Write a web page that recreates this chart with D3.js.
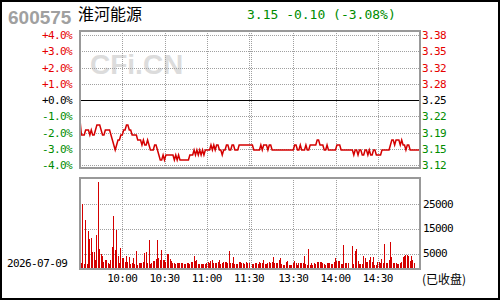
<!DOCTYPE html>
<html>
<head>
<meta charset="utf-8">
<script src="https://cdn.jsdelivr.net/npm/d3@7"></script>
<style>
  body { margin: 0; background: #fff; }
  svg { display: block; }
  .mono { font-family: "DejaVu Sans Mono", monospace; font-size: 11px; letter-spacing: -0.6px; }
</style>
</head>
<body>
<div id="chart"></div>
<script>
// ---- data ----
const stockCode = "600575";
const stockName = "淮河能源";
const quoteText = "3.15 -0.10 (-3.08%)";
const tradeDate = "2026-07-09";
const closedNote = "(已收盘)";
const prevClose = 3.25;

const pctTicks = [4, 3, 2, 1, 0, -1, -2, -3, -4];
const pctLabels = ["+4.0%", "+3.0%", "+2.0%", "+1.0%", "+0.0%", "-1.0%", "-2.0%", "-3.0%", "-4.0%"];
const priceLabels = ["3.38", "3.35", "3.32", "3.28", "3.25", "3.22", "3.19", "3.15", "3.12"];
const volTicks = [5000, 15000, 25000];
const volLabels = ["5000", "15000", "25000"];
const gridTimes = ["10:00", "10:30", "11:00", "11:30", "13:00", "13:30", "14:00", "14:30"];
const timeLabels = ["10:00", "10:30", "11:00", "11:30", "13:30", "14:00", "14:30"];

// 9:30 .. 11:30 (121 minutes)
const amPrice = [
  3.21, 3.18, 3.18, 3.18, 3.19, 3.19, 3.19, 3.18, 3.19, 3.18,
  3.18, 3.19, 3.20, 3.20, 3.20, 3.19, 3.18, 3.18, 3.19, 3.19,
  3.19, 3.19, 3.18, 3.17, 3.16, 3.15, 3.16, 3.17, 3.17, 3.18,
  3.18, 3.19, 3.19, 3.20, 3.20, 3.19, 3.19, 3.18, 3.18, 3.18,
  3.18, 3.17, 3.17, 3.17, 3.16, 3.17, 3.16, 3.16, 3.17, 3.16,
  3.15, 3.15, 3.15, 3.16, 3.16, 3.15, 3.14, 3.13, 3.13, 3.14,
  3.13, 3.14, 3.14, 3.14, 3.14, 3.14, 3.14, 3.13, 3.14, 3.13,
  3.14, 3.13, 3.13, 3.13, 3.13, 3.13, 3.13, 3.13, 3.14, 3.14,
  3.14, 3.15, 3.14, 3.15, 3.14, 3.15, 3.14, 3.15, 3.14, 3.15,
  3.15, 3.15, 3.15, 3.16, 3.15, 3.16, 3.15, 3.16, 3.16, 3.15,
  3.15, 3.14, 3.15, 3.15, 3.16, 3.16, 3.15, 3.15, 3.16, 3.16,
  3.15, 3.15, 3.15, 3.16, 3.16, 3.16, 3.16, 3.16, 3.16, 3.16,
  3.16
];
// 13:01 .. 15:00 (120 minutes)
const pmPrice = [
  3.16, 3.15, 3.15, 3.15, 3.15, 3.15, 3.16, 3.15, 3.16, 3.16,
  3.16, 3.15, 3.16, 3.16, 3.15, 3.15, 3.15, 3.15, 3.15, 3.15,
  3.15, 3.15, 3.15, 3.15, 3.15, 3.15, 3.15, 3.15, 3.15, 3.15,
  3.16, 3.16, 3.15, 3.15, 3.16, 3.15, 3.15, 3.15, 3.16, 3.15,
  3.15, 3.16, 3.16, 3.16, 3.16, 3.16, 3.17, 3.17, 3.16, 3.16,
  3.16, 3.15, 3.15, 3.16, 3.15, 3.15, 3.15, 3.15, 3.15, 3.15,
  3.16, 3.16, 3.16, 3.15, 3.15, 3.15, 3.15, 3.15, 3.15, 3.15,
  3.15, 3.15, 3.14, 3.15, 3.15, 3.14, 3.15, 3.15, 3.14, 3.14,
  3.15, 3.15, 3.14, 3.15, 3.14, 3.14, 3.15, 3.15, 3.14, 3.14,
  3.14, 3.14, 3.15, 3.15, 3.15, 3.15, 3.15, 3.15, 3.16, 3.17,
  3.17, 3.16, 3.17, 3.17, 3.17, 3.16, 3.17, 3.16, 3.16, 3.15,
  3.16, 3.16, 3.15, 3.15, 3.15, 3.15, 3.15, 3.15, 3.15, 3.15
];
const amVolume = [
  3000, 1000, 25100, 600, 18700, 800, 14200, 11100, 11500, 5700,
  5700, 2400, 12600, 34100, 6900, 4700, 4100, 1500, 2400, 2400,
  1100, 800, 2400, 7700, 20300, 6500, 14600, 4100, 1100, 7300,
  3000, 3000, 1600, 4100, 1600, 3400, 900, 1100, 3000, 600,
  6100, 500, 1100, 1100, 1100, 1600, 5100, 5700, 1100, 10600,
  800, 1100, 2000, 2000, 2700, 10600, 3000, 2400, 6500, 2400,
  2400, 1600, 4700, 4700, 2700, 2000, 1100, 1100, 600, 1100,
  1100, 1100, 1100, 1100, 700, 700, 1100, 1100, 700, 1400,
  1400, 4100, 2000, 2400, 700, 700, 700, 700, 700, 700,
  1100, 1600, 1100, 2000, 2400, 1100, 1100, 1100, 1600, 2400,
  700, 1100, 1400, 1600, 1600, 1100, 6100, 1100, 1100, 3600,
  700, 700, 700, 1600, 1600, 1100, 1100, 700, 1600, 1100,
  1100
];
const pmVolume = [
  700, 700, 1100, 1100, 700, 1400, 1100, 1100, 2400, 700,
  700, 1100, 1600, 1100, 1600, 3600, 1100, 1100, 1100, 2400,
  3000, 700, 300, 300, 1600, 2000, 300, 300, 300, 1100,
  2000, 1100, 300, 1100, 1100, 1100, 1100, 4100, 700, 300,
  6900, 300, 1100, 300, 1100, 700, 1600, 1600, 1600, 1600,
  1100, 700, 300, 1100, 1100, 1100, 700, 700, 1600, 3000,
  2000, 2000, 2000, 700, 700, 8500, 1100, 1100, 1100, null,
  null, 8100, 700, 6100, 6900, 2000, 700, 700, 700, 4100,
  3000, 1600, 1600, 2400, 3600, 1600, 3400, 300, 300, 1600,
  1600, 1100, 2700, 1100, 8900, 1100, 1100, 2400, 9700, 3400,
  1100, 1100, 1100, 700, 700, 1100, 1600, 3400, 4100, 4300,
  4300, 3900, 2000, 3900, 2400, 1100, null, null, null, 4700
];

// ---- layout ----
const WIDTH = 500, HEIGHT = 300;
const PLOT = {LEFT: 80, MID_L: 249, MID_R: 251, RIGHT: 420};
const PRICE_BOX = {TOP: 31, BOTTOM: 168};
const VOL_BOX = {TOP: 178, BOTTOM: 269};
const UP = "#e60000", DOWN = "#008c00", GRID = "#a0a0a0";

const svg = d3.select("#chart").append("svg")
  .attr("width", WIDTH)
  .attr("height", HEIGHT);

svg.append("rect")
  .attr("x", 1).attr("y", 1)
  .attr("width", WIDTH - 2).attr("height", HEIGHT - 2)
  .attr("fill", "#fff").attr("stroke", "#000").attr("stroke-width", 2);

// scales
const xAm = d3.scaleLinear().domain([0, 120]).range([PLOT.LEFT, PLOT.MID_L]);
const xPm = d3.scaleLinear().domain([0, 120]).range([PLOT.MID_R, PLOT.RIGHT]);
const yPct = d3.scaleLinear().domain([-4, 4]).range([165, 35]);
const yVol = d3.scaleLinear().domain([0, 35500]).range([265.8, 178.5]);

const timeX = t => {
  const [h, m] = t.split(":").map(Number);
  return h < 12 ? xAm((h - 9) * 60 + m - 30) : xPm((h - 13) * 60 + m);
};
const pct = p => (p - prevClose) / prevClose * 100;
const crisp = v => Math.round(v) + 0.5;

const series = amPrice.map((p, i) => ({x: xAm(i), price: p, vol: amVolume[i]}))
  .concat(pmPrice.map((p, i) => ({x: xPm(i + 1), price: p, vol: pmVolume[i]})));

// header
svg.append("text")
  .attr("x", 8).attr("y", 23.5)
  .attr("font-family", "'Liberation Sans', Arial, sans-serif")
  .attr("font-weight", "bold").attr("font-size", 19)
  .attr("fill", "#a0a0a0")
  .text(stockCode);
svg.append("text")
  .attr("x", 78).attr("y", 20)
  .attr("font-family", "'Noto Sans CJK SC', sans-serif")
  .attr("font-size", 16).attr("fill", "#000")
  .text(stockName);
svg.append("text")
  .attr("x", 247).attr("y", 19.3)
  .attr("font-family", "'DejaVu Sans Mono', monospace")
  .attr("font-size", 13).attr("fill", DOWN)
  .text(quoteText);

// watermark
svg.append("text")
  .attr("x", 90).attr("y", 74)
  .attr("font-family", "'Liberation Sans', Arial, sans-serif")
  .attr("font-weight", "bold").attr("font-size", 28)
  .attr("fill", "#dcdcdc")
  .text("CFi.CN");

// grid
const grid = svg.append("g")
  .attr("stroke", GRID).attr("stroke-dasharray", "1,1")
  .attr("shape-rendering", "crispEdges");

grid.selectAll(".hgrid")
  .data(pctTicks.filter(d => d !== 0))
  .enter().append("line")
  .attr("x1", PLOT.LEFT).attr("x2", PLOT.RIGHT)
  .attr("y1", d => crisp(yPct(d))).attr("y2", d => crisp(yPct(d)));

grid.selectAll(".vgrid")
  .data(volTicks)
  .enter().append("line")
  .attr("x1", PLOT.LEFT).attr("x2", PLOT.RIGHT)
  .attr("y1", d => crisp(yVol(d))).attr("y2", d => crisp(yVol(d)));

[PRICE_BOX, VOL_BOX].forEach(box => {
  grid.append("g").selectAll("line")
    .data(gridTimes)
    .enter().append("line")
    .attr("x1", d => crisp(timeX(d))).attr("x2", d => crisp(timeX(d)))
    .attr("y1", box.TOP).attr("y2", box.BOTTOM);
});

svg.append("line")
  .attr("x1", PLOT.LEFT).attr("x2", PLOT.RIGHT)
  .attr("y1", crisp(yPct(0))).attr("y2", crisp(yPct(0)))
  .attr("stroke", "#000").attr("shape-rendering", "crispEdges");

// price line
svg.append("path")
  .datum(series)
  .attr("fill", "none")
  .attr("stroke", "#d40000")
  .attr("stroke-width", 1.5)
  .attr("d", d3.line().x(d => d.x).y(d => yPct(pct(d.price))));

// volume bars
svg.append("g")
  .attr("fill", "#d40000")
  .attr("shape-rendering", "crispEdges")
  .selectAll("rect")
  .data(series.filter(d => d.vol != null))
  .enter().append("rect")
  .attr("x", d => Math.floor(d.x))
  .attr("width", 1)
  .attr("y", d => yVol(d.vol))
  .attr("height", d => VOL_BOX.BOTTOM - yVol(d.vol));

// frames
[PRICE_BOX, VOL_BOX].forEach(box => {
  svg.append("rect")
    .attr("x", PLOT.LEFT).attr("y", box.TOP)
    .attr("width", PLOT.RIGHT - PLOT.LEFT).attr("height", box.BOTTOM - box.TOP)
    .attr("fill", "none").attr("stroke", "#999").attr("stroke-width", 2)
    .attr("shape-rendering", "crispEdges");
});

// axis labels
const labelColor = d => d > 0 ? UP : (d < 0 ? DOWN : "#000");

svg.append("g").selectAll("text")
  .data(pctTicks)
  .enter().append("text")
  .attr("class", "mono")
  .attr("x", 72).attr("y", d => yPct(d) + 4)
  .attr("text-anchor", "end")
  .attr("fill", labelColor)
  .text((d, i) => pctLabels[i]);

svg.append("g").selectAll("text")
  .data(pctTicks)
  .enter().append("text")
  .attr("class", "mono")
  .attr("x", 422).attr("y", d => yPct(d) + 4)
  .attr("fill", labelColor)
  .text((d, i) => priceLabels[i]);

svg.append("g").selectAll("text")
  .data(volTicks)
  .enter().append("text")
  .attr("class", "mono")
  .attr("x", 423).attr("y", d => yVol(d) + 3.5)
  .attr("fill", "#000")
  .text((d, i) => volLabels[i]);

svg.append("g").selectAll("text")
  .data(timeLabels)
  .enter().append("text")
  .attr("class", "mono")
  .attr("x", d => timeX(d)).attr("y", 282)
  .attr("text-anchor", "middle")
  .attr("fill", "#000")
  .text(d => d);

svg.append("text")
  .attr("class", "mono")
  .attr("x", 7).attr("y", 266.5)
  .attr("fill", "#000")
  .text(tradeDate);

svg.append("text")
  .attr("x", 422).attr("y", 284)
  .attr("font-family", "'Noto Sans CJK SC', sans-serif")
  .attr("font-size", 12).attr("fill", "#000")
  .text(closedNote);
</script>
</body>
</html>
